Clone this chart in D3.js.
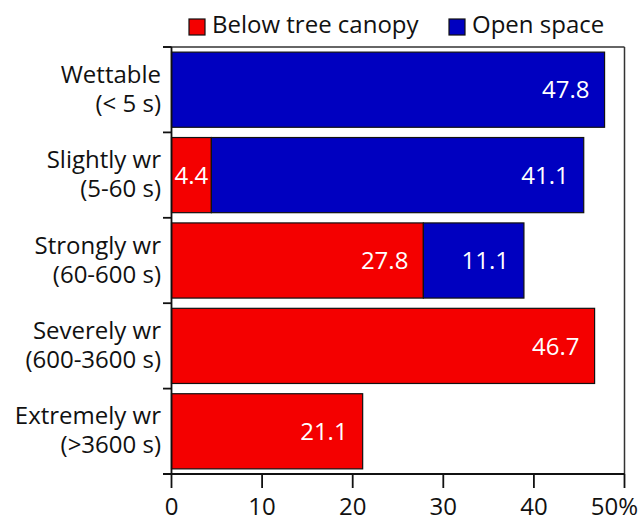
<!DOCTYPE html>
<html><head><meta charset="utf-8">
<script src="https://cdn.jsdelivr.net/npm/d3@7"></script>
<style>body{margin:0;background:#fff}svg{display:block;font-family:"Open Sans",sans-serif}</style>
</head><body><svg id="c" width="640" height="516"></svg>
<script>
const categories = [["Wettable","(< 5 s)"],["Slightly wr","(5-60 s)"],["Strongly wr","(60-600 s)"],["Severely wr","(600-3600 s)"],["Extremely wr","(>3600 s)"]];
const belowCanopy = [0, 4.4, 27.8, 46.7, 21.1];
const openSpace = [47.8, 41.1, 11.1, 0, 0];
const seriesNames = ["Below tree canopy","Open space"];
const seriesColors = ["#f40000","#0000c0"];
const xTicks = [0,10,20,30,40,50];
const xTickLabels = ["0","10","20","30","40","50%"];

const svg = d3.select("#c");
const fs = 24;
const x = d3.scaleLinear().domain([0,50]).range([171.5,624.5]);
const y = d3.scaleBand().domain(d3.range(categories.length)).range([47,474]).paddingInner(0.12).paddingOuter(0.06);

// frame top/right
svg.append("line").attr("x1",163).attr("x2",624.5).attr("y1",47).attr("y2",47).attr("stroke","#333").attr("stroke-width",1.5);
svg.append("line").attr("x1",624.5).attr("x2",624.5).attr("y1",47).attr("y2",474).attr("stroke","#333").attr("stroke-width",1.5);

const data = categories.map((c,i)=>({i, segs:[{s:0,x0:0,x1:belowCanopy[i],v:belowCanopy[i]},{s:1,x0:belowCanopy[i],x1:belowCanopy[i]+openSpace[i],v:openSpace[i]}].filter(d=>d.v>0)}));

const g = svg.append("g");
data.forEach(d=>{
  d.segs.forEach(s=>{
    g.append("rect").attr("x",x(s.x0)).attr("y",y(d.i)).attr("width",x(s.x1)-x(s.x0)).attr("height",y.bandwidth())
      .attr("fill",seriesColors[s.s]).attr("stroke","#111").attr("stroke-width",1.2);
    const w = x(s.x1)-x(s.x0);
    const narrow = w < 60;
    g.append("text").attr("x", narrow ? (x(s.x0)+x(s.x1))/2 : x(s.x1)-15)
      .attr("y", y(d.i)+y.bandwidth()/2 + fs*0.36)
      .attr("text-anchor", narrow ? "middle" : "end")
      .attr("fill","#fff").attr("font-size",fs).text(s.v.toFixed(1));
  });
});

// left axis
const yAxisG = svg.append("g");
yAxisG.append("line").attr("x1",171.5).attr("x2",171.5).attr("y1",47).attr("y2",474).attr("stroke","#111").attr("stroke-width",1.8);
const bounds = d3.range(categories.length+1).map(i=>47+i*(474-47)/categories.length);
bounds.forEach(b=>yAxisG.append("line").attr("x1",163).attr("x2",171.5).attr("y1",b).attr("y2",b).attr("stroke","#111").attr("stroke-width",1.8));
categories.forEach((c,i)=>{
  const cy = y(i)+y.bandwidth()/2;
  const t = yAxisG.append("text").attr("text-anchor","end").attr("font-size",fs).attr("fill","#111");
  t.append("tspan").attr("x",161).attr("y",cy-7).text(c[0]);
  t.append("tspan").attr("x",161).attr("y",cy+22).text(c[1]);
});

// bottom axis
const xg = svg.append("g");
xg.append("line").attr("x1",163).attr("x2",624.5).attr("y1",474).attr("y2",474).attr("stroke","#111").attr("stroke-width",1.8);
xTicks.forEach((t,i)=>{
  const last = i===xTicks.length-1;
  xg.append("line").attr("x1",x(t)).attr("x2",x(t)).attr("y1",474).attr("y2",488).attr("stroke","#111").attr("stroke-width",1.8);
  xg.append("text").attr("x",last?638:x(t)).attr("y",515).attr("text-anchor",last?"end":"middle").attr("font-size",fs).attr("fill","#111").text(xTickLabels[i]);
});

// legend
const legX = [189,449];
seriesNames.forEach((n,i)=>{
  svg.append("rect").attr("x",legX[i]).attr("y",19).attr("width",16).attr("height",16).attr("fill",seriesColors[i]).attr("stroke","#111").attr("stroke-width",1.2);
  svg.append("text").attr("x",legX[i]+23).attr("y",33).attr("font-size",fs).attr("fill","#111").text(n);
});
</script></body></html>
